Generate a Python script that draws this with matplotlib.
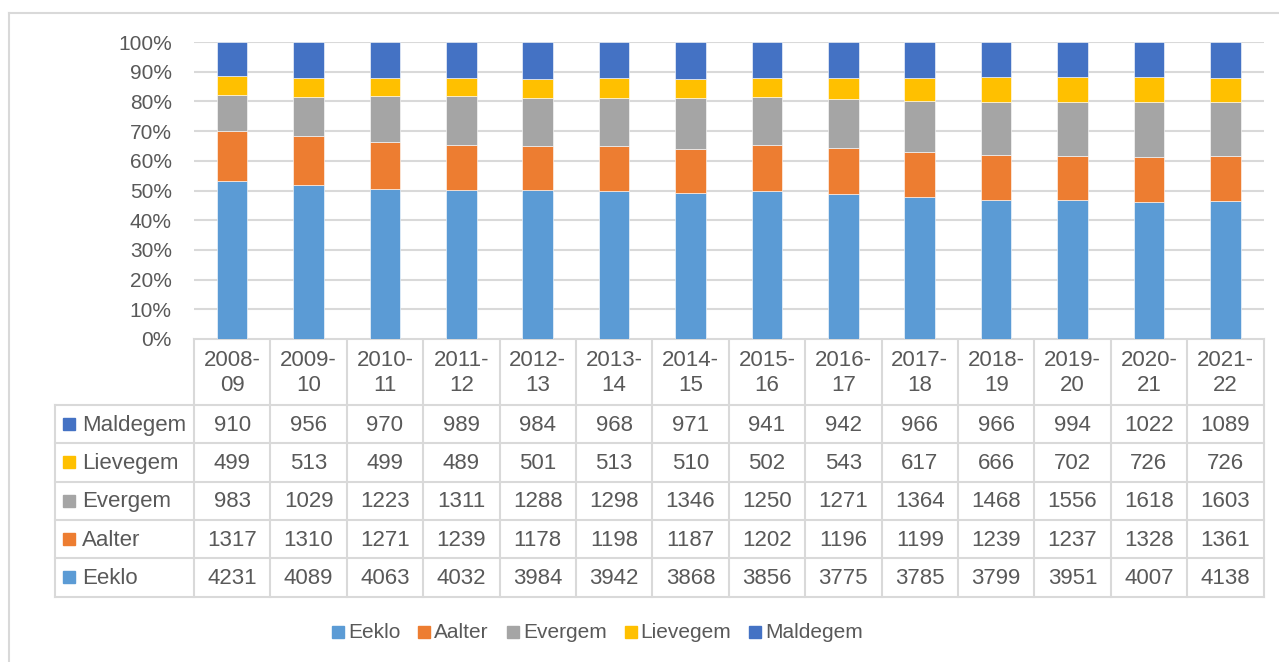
import numpy as np
import matplotlib.pyplot as plt
from matplotlib.patches import Rectangle

years = ["2008-\n09", "2009-\n10", "2010-\n11", "2011-\n12", "2012-\n13", "2013-\n14",
         "2014-\n15", "2015-\n16", "2016-\n17", "2017-\n18", "2018-\n19", "2019-\n20",
         "2020-\n21", "2021-\n22"]
series = ["Eeklo", "Aalter", "Evergem", "Lievegem", "Maldegem"]
eeklo = [4231, 4089, 4063, 4032, 3984, 3942, 3868, 3856, 3775, 3785, 3799, 3951, 4007, 4138]
aalter = [1317, 1310, 1271, 1239, 1178, 1198, 1187, 1202, 1196, 1199, 1239, 1237, 1328, 1361]
evergem = [983, 1029, 1223, 1311, 1288, 1298, 1346, 1250, 1271, 1364, 1468, 1556, 1618, 1603]
lievegem = [499, 513, 499, 489, 501, 513, 510, 502, 543, 617, 666, 702, 726, 726]
maldegem = [910, 956, 970, 989, 984, 968, 971, 941, 942, 966, 966, 994, 1022, 1089]
colors = ["#5B9BD5", "#ED7D31", "#A5A5A5", "#FFC000", "#4472C4"]

data = np.array([eeklo, aalter, evergem, lievegem, maldegem], dtype=float)
pct = data / data.sum(axis=0)

W, H = 1279, 662
txt = "#595959"
grid = "#D9D9D9"
fs = 16
plt.rcParams['font.family'] = ['Liberation Sans', 'DejaVu Sans']

fig = plt.figure(figsize=(W / 100, H / 100), dpi=100)

# pixel-coordinate overlay for table, legend, frame
ov = fig.add_axes([0, 0, 1, 1])
ov.set_xlim(0, W)
ov.set_ylim(H, 0)
ov.axis("off")

# chart area
x0, x1 = 194, 1263.5
ytop, ybot = 42, 339
ax = fig.add_axes([x0 / W, (H - ybot) / H, (x1 - x0) / W, (ybot - ytop) / H])
n = len(years)
x = np.arange(n)
bottom = np.zeros(n)
for i, name in enumerate(series):
    ax.bar(x, pct[i], 0.4, bottom=bottom, color=colors[i], edgecolor="white", linewidth=0.4, zorder=3)
    bottom += pct[i]
ax.set_xlim(-0.5, n - 0.5)
ax.set_ylim(0, 1)
ax.set_yticks(np.arange(0, 1.01, 0.1))
ax.set_yticklabels([f"{int(round(v * 100))}%" for v in np.arange(0, 1.01, 0.1)], color=txt, fontsize=15)
ax.tick_params(axis="y", length=0, pad=16)
ax.set_xticks([])
ax.grid(axis="y", color=grid, linewidth=1.5, zorder=0)
for s in ax.spines.values():
    s.set_visible(False)

# data table
colw = (x1 - x0) / n
rows = [405, 443.3, 481.6, 519.9, 558.2, 596.5]
tleft = 55
lc = "#D9D9D9"
lw = 1.5
ov.plot([x0, x1], [ybot, ybot], color=lc, lw=lw)
for yy in rows:
    ov.plot([tleft, x1], [yy, yy], color=lc, lw=lw)
for j in range(n + 1):
    xx = x0 + j * colw
    ov.plot([xx, xx], [ybot, rows[-1]], color=lc, lw=lw)
ov.plot([tleft, tleft], [rows[0], rows[-1]], color=lc, lw=lw)

for j, lab in enumerate(years):
    cx = x0 + (j + 0.5) * colw
    ov.text(cx, (ybot + rows[0]) / 2 + 1, lab, ha="center", va="center", color=txt,
            fontsize=fs, linespacing=1.2)

order = [4, 3, 2, 1, 0]
for r, si in enumerate(order):
    cy = (rows[r] + rows[r + 1]) / 2
    ov.add_patch(Rectangle((63, cy - 6), 12, 12, color=colors[si]))
    ov.text(82, cy + 1, series[si], ha="left", va="center", color=txt, fontsize=fs)
    for j in range(n):
        cx = x0 + (j + 0.5) * colw
        ov.text(cx, cy + 1, str(int(data[si, j])), ha="center", va="center", color=txt, fontsize=fs)

# legend: measure text widths and centre the row
renderer = fig.canvas.get_renderer()
leg_fs = 15
mk, gap_in, gap_out = 12, 4, 18
widths = []
for name in series:
    t = ov.text(0, 0, name, fontsize=leg_fs)
    widths.append(t.get_window_extent(renderer).width)
    t.remove()
total = sum(mk + gap_in + w for w in widths) + gap_out * (len(series) - 1)
lx = 597.5 - total / 2
for i, name in enumerate(series):
    ov.add_patch(Rectangle((lx, 626), mk, mk, color=colors[i]))
    ov.text(lx + mk + gap_in, 633, name, ha="left", va="center", color=txt, fontsize=leg_fs)
    lx += mk + gap_in + widths[i] + gap_out

# chart frame (top and left edges visible)
ov.plot([9, W], [13, 13], color=lc, lw=1.5)
ov.plot([9, 9], [13, H], color=lc, lw=1.5)

fig.savefig("out.png", dpi=100)
